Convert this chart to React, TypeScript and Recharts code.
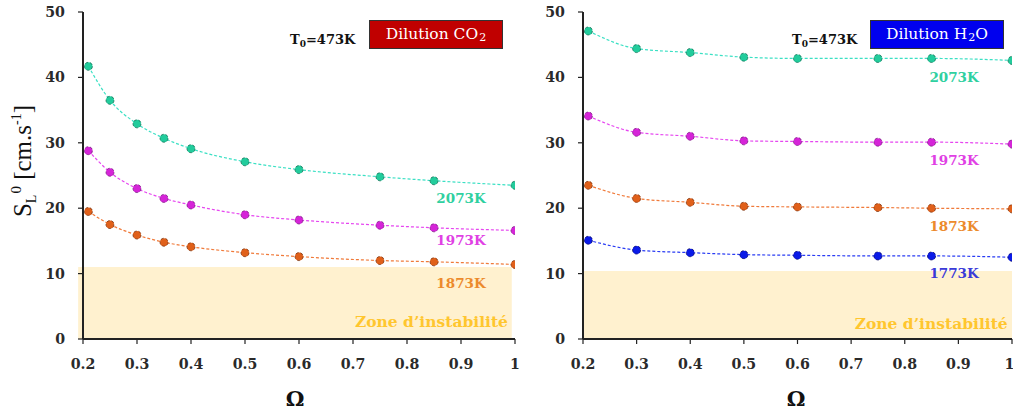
import React from 'react';
import { ComposedChart, Line, XAxis, YAxis, ReferenceArea, ReferenceDot } from 'recharts';

// ---- data ----
const omegaCO2 = [0.21, 0.25, 0.3, 0.35, 0.4, 0.5, 0.6, 0.75, 0.85, 1];
const co2_2073 = [41.7, 36.5, 32.9, 30.7, 29.1, 27.1, 25.9, 24.8, 24.2, 23.5];
const co2_1973 = [28.8, 25.5, 23.0, 21.5, 20.5, 19.0, 18.2, 17.4, 17.0, 16.6];
const co2_1873 = [19.5, 17.5, 15.9, 14.8, 14.1, 13.2, 12.6, 12.0, 11.8, 11.4];

const omegaH2O = [0.21, 0.3, 0.4, 0.5, 0.6, 0.75, 0.85, 1];
const h2o_2073 = [47.1, 44.4, 43.8, 43.1, 42.9, 42.9, 42.9, 42.6];
const h2o_1973 = [34.1, 31.6, 31.0, 30.3, 30.2, 30.1, 30.1, 29.8];
const h2o_1873 = [23.5, 21.5, 20.9, 20.3, 20.2, 20.1, 20.0, 19.9];
const h2o_1773 = [15.1, 13.6, 13.2, 12.9, 12.8, 12.7, 12.7, 12.5];

const xTicks = [0.2, 0.3, 0.4, 0.5, 0.6, 0.7, 0.8, 0.9, 1];
const yTicks = [0, 10, 20, 30, 40, 50];

const zoneCO2 = 11;
const zoneH2O = 10.4;

const FONT = '"DejaVu Serif", serif';
const FONT2 = '"Liberation Serif", serif';
const AX = '#222';

const seriesStyle: Record<string, { line: string; fill: string; stroke: string; label: string }> = {
  '2073K': { line: '#3be0c4', fill: '#22cc9c', stroke: '#1d6e58', label: '#2fd0a0' },
  '1973K': { line: '#e646f0', fill: '#d524d8', stroke: '#7a2a80', label: '#e040e4' },
  '1873K': { line: '#f07a3a', fill: '#e0601a', stroke: '#7a3a1a', label: '#ec8a2c' },
  '1773K': { line: '#2a3cf4', fill: '#0a1ae8', stroke: '#10106a', label: '#3a3ad8' },
};

const buildRows = (xs: number[], series: Record<string, number[]>) =>
  xs.map((x, i) => {
    const row: Record<string, number> = { x };
    Object.keys(series).forEach((k) => (row[k] = series[k][i]));
    return row;
  });

const co2Rows = buildRows(omegaCO2, { '2073K': co2_2073, '1973K': co2_1973, '1873K': co2_1873 });
const h2oRows = buildRows(omegaH2O, {
  '2073K': h2o_2073,
  '1973K': h2o_1973,
  '1873K': h2o_1873,
  '1773K': h2o_1773,
});

const tickStyle = { fontFamily: FONT, fontWeight: 700, fontSize: 14.2, fill: '#2a2a2a' };

type LabelPos = { key: string; x: number; y: number };

function Panel(props: {
  rows: Record<string, number>[];
  keys: string[];
  zone: number;
  zoneX1: number;
  zoneX2: number;
  labels: LabelPos[];
  zoneLabel: { x: number; y: number };
  width: number;
  marginRight: number;
}) {
  const { rows, keys, zone, zoneX1, zoneX2, labels, zoneLabel, width, marginRight } = props;
  return (
    <ComposedChart
      width={width}
      height={414}
      data={rows}
      margin={{ top: 12, right: marginRight, left: 40, bottom: 54 }}
    >
      <ReferenceArea
        x1={zoneX1}
        x2={zoneX2}
        y1={0}
        y2={zone}
        fill="#fff1cf"
        fillOpacity={1}
        stroke="none"
        ifOverflow="visible"
      />
      <XAxis
        type="number"
        dataKey="x"
        domain={[0.2, 1]}
        ticks={xTicks}
        tickFormatter={(v: number) => (v === 1 ? '1' : v.toFixed(1))}
        tick={tickStyle}
        tickSize={5}
        tickMargin={15}
        height={21}
        axisLine={{ stroke: AX, strokeWidth: 2 }}
        tickLine={{ stroke: AX, strokeWidth: 1.2 }}
        allowDataOverflow
      />
      <XAxis
        xAxisId="top"
        orientation="top"
        type="number"
        domain={[0.2, 1]}
        height={0}
        tick={false}
        tickLine={false}
        axisLine={{ stroke: AX, strokeWidth: 2 }}
      />
      <YAxis
        type="number"
        domain={[0, 50]}
        ticks={yTicks}
        tick={tickStyle}
        tickSize={5}
        tickMargin={13}
        width={43}
        axisLine={{ stroke: AX, strokeWidth: 2 }}
        tickLine={{ stroke: AX, strokeWidth: 1.2 }}
      />
      <YAxis
        yAxisId="r"
        orientation="right"
        type="number"
        domain={[0, 50]}
        width={0}
        tick={false}
        tickLine={false}
        axisLine={{ stroke: AX, strokeWidth: 2 }}
      />
      {keys.map((k) => (
        <Line
          key={k}
          type="monotone"
          dataKey={k}
          stroke={seriesStyle[k].line}
          strokeWidth={1.2}
          strokeDasharray="3 2"
          dot={{ r: 4, fill: seriesStyle[k].fill, stroke: seriesStyle[k].stroke, strokeWidth: 0.8 }}
          isAnimationActive={false}
        />
      ))}
      {labels.map((l) => (
        <ReferenceDot
          key={l.key}
          x={l.x}
          y={l.y}
          r={0}
          stroke="none"
          fill="none"
          label={{
            value: l.key,
            position: 'center',
            fill: seriesStyle[l.key].label,
            fontFamily: FONT,
            fontWeight: 700,
            fontSize: 13.5,
          }}
        />
      ))}
      <ReferenceDot
        x={zoneLabel.x}
        y={zoneLabel.y}
        r={0}
        stroke="none"
        fill="none"
        label={{
          value: 'Zone d\u2019instabilit\u00e9',
          position: 'left',
          offset: 0,
          fill: '#ffc62e',
          fontFamily: FONT,
          fontWeight: 700,
          fontSize: 15.5,
        }}
      />
    </ComposedChart>
  );
}

const abs = (s: React.CSSProperties): React.CSSProperties => ({ position: 'absolute', ...s });

const boxSub = (t: string) => (
  <span style={{ fontSize: 11, position: 'relative', top: 4, marginLeft: 1 }}>{t}</span>
);

function Annot(props: { textLeft: number; boxLeft: number; boxWidth: number; color: string; species: React.ReactNode }) {
  return (
    <>
      <div
        style={abs({
          left: props.textLeft,
          top: 30,
          fontFamily: FONT,
          fontWeight: 700,
          fontSize: 13,
          color: '#111',
          whiteSpace: 'nowrap',
          lineHeight: '20px',
        })}
      >
        T<span style={{ fontSize: 9, position: 'relative', top: 3 }}>0</span>=473K
      </div>
      <div
        style={abs({
          left: props.boxLeft,
          top: 20,
          width: props.boxWidth,
          height: 29,
          background: props.color,
          border: '1px solid #333',
          boxSizing: 'border-box',
          color: '#fff',
          fontFamily: FONT,
          fontWeight: 400,
          fontSize: 15.5,
          display: 'flex',
          alignItems: 'center',
          justifyContent: 'center',
          whiteSpace: 'nowrap',
          paddingBottom: 2,
        })}
      >
        {props.species}
      </div>
    </>
  );
}

export default function App() {
  return (
    <div style={abs({ left: 0, top: 0, width: 1013, height: 414, background: '#fff', overflow: 'hidden' })}>
      <div style={abs({ left: 0, top: 0 })}>
        <Panel
          rows={co2Rows}
          keys={['2073K', '1973K', '1873K']}
          zone={zoneCO2}
          zoneX1={0.191}
          zoneX2={0.994}
          labels={[
            { key: '2073K', x: 0.9, y: 21.6 },
            { key: '1973K', x: 0.9, y: 15.1 },
            { key: '1873K', x: 0.9, y: 8.6 },
          ]}
          zoneLabel={{ x: 0.987, y: 2.75 }}
          width={520}
          marginRight={5}
        />
      </div>
      <div style={abs({ left: 500, top: 0 })}>
        <Panel
          rows={h2oRows}
          keys={['2073K', '1973K', '1873K', '1773K']}
          zone={zoneH2O}
          zoneX1={0.2}
          zoneX2={1}
          labels={[
            { key: '2073K', x: 0.892, y: 40.1 },
            { key: '1973K', x: 0.892, y: 27.3 },
            { key: '1873K', x: 0.892, y: 17.3 },
            { key: '1773K', x: 0.892, y: 10.1 },
          ]}
          zoneLabel={{ x: 0.992, y: 2.4 }}
          width={513}
          marginRight={1}
        />
      </div>

      {/* y-axis title */}
      <div
        style={abs({
          left: 22,
          top: 161,
          transform: 'translate(-50%, -50%) rotate(-90deg)',
          fontFamily: FONT2,
          fontSize: 25,
          color: '#111',
          whiteSpace: 'nowrap',
          lineHeight: 1,
        })}
      >
        S<span style={{ fontSize: 14, position: 'relative', top: 5 }}>L</span>
        <span style={{ fontSize: 15, position: 'relative', top: -10, marginLeft: 1 }}>0</span> [cm.s
        <span style={{ fontSize: 14, position: 'relative', top: -10 }}>-1</span>]
      </div>

      {/* x-axis titles */}
      <div style={abs({ left: 295, top: 398, transform: 'translate(-50%, -50%)', fontFamily: FONT, fontWeight: 700, fontSize: 21, color: '#111', lineHeight: 1 })}>Ω</div>
      <div style={abs({ left: 796, top: 398, transform: 'translate(-50%, -50%)', fontFamily: FONT, fontWeight: 700, fontSize: 21, color: '#111', lineHeight: 1 })}>Ω</div>

      <Annot textLeft={290} boxLeft={369} boxWidth={134} color="#c00000" species={<>Dilution CO{boxSub('2')}</>} />
      <Annot textLeft={792} boxLeft={870} boxWidth={134} color="#0000ee" species={<>Dilution H{boxSub('2')}O</>} />
    </div>
  );
}
